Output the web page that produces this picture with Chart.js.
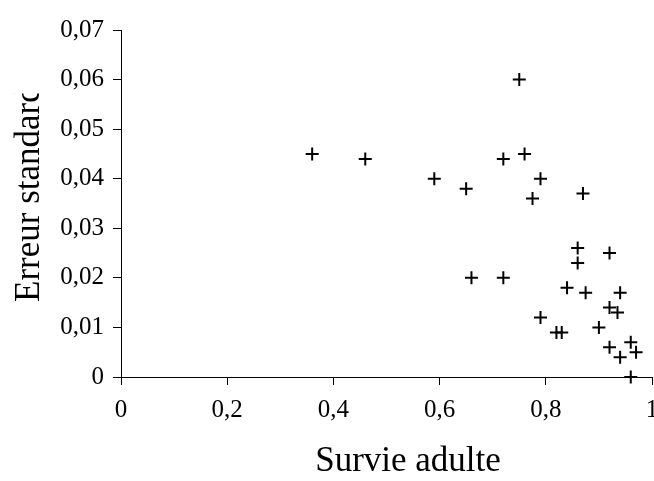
<!DOCTYPE html>
<html><head><meta charset="utf-8">
<script src="https://cdn.jsdelivr.net/npm/chart.js@4/dist/chart.umd.min.js"></script>
<style>html,body{margin:0;padding:0;background:#fff;overflow:hidden}#wrap{width:654px;height:481px;position:relative}</style>
</head><body><div id="wrap"><canvas id="c" width="654" height="481"></canvas></div>
<script>
// Data
const survieAdulte = [0.36, 0.46, 0.59, 0.65, 0.72, 0.75, 0.76, 0.79, 0.775, 0.87,
  0.86, 0.92, 0.86, 0.66, 0.72, 0.84, 0.875, 0.94, 0.92, 0.935,
  0.79, 0.82, 0.83, 0.90, 0.96, 0.92, 0.97, 0.94, 0.96];
const erreurStandard = [0.045, 0.044, 0.040, 0.038, 0.044, 0.060, 0.045, 0.040, 0.036, 0.037,
  0.026, 0.025, 0.023, 0.020, 0.020, 0.018, 0.017, 0.017, 0.014, 0.013,
  0.012, 0.009, 0.009, 0.010, 0.007, 0.006, 0.005, 0.004, 0.000];
const xTicks = [0, 0.2, 0.4, 0.6, 0.8, 1];
const yTicks = [0, 0.01, 0.02, 0.03, 0.04, 0.05, 0.06, 0.07];
const xTitle = 'Survie adulte';
const yTitle = 'Erreur standard';

const FONT = "'Liberation Serif', 'Times New Roman', serif";
const points = survieAdulte.map((x, i) => ({ x: x, y: erreurStandard[i] }));
const fmt = v => (v === 0 ? '0' : (Math.abs(v - 1) < 1e-9 ? '1' : String(+v.toFixed(2)).replace('.', ',')));

const titlesPlugin = {
  id: 'titles',
  afterDraw(chart) {
    const ctx = chart.ctx;
    ctx.save();
    ctx.fillStyle = '#000';
    ctx.font = '35px ' + FONT;
    ctx.textAlign = 'center';
    ctx.textBaseline = 'alphabetic';
    ctx.fillText(xTitle, 408, 471);
    ctx.restore();
    ctx.save();
    ctx.beginPath();
    ctx.rect(0, 93.5, 120, 388);
    ctx.clip();
    ctx.fillStyle = '#000';
    ctx.font = '35px ' + FONT;
    ctx.translate(39, 302);
    ctx.rotate(-Math.PI / 2);
    ctx.textAlign = 'left';
    ctx.textBaseline = 'alphabetic';
    ctx.fillText(yTitle, 0, 0);
    ctx.restore();
  }
};

new Chart(document.getElementById('c'), {
  type: 'scatter',
  data: {
    datasets: [{
      data: points,
      pointStyle: 'cross',
      pointRadius: 6.5,
      pointHoverRadius: 6.5,
      pointBorderWidth: 2,
      borderColor: '#000',
      backgroundColor: '#000',
      showLine: false,
      clip: false
    }]
  },
  options: {
    responsive: false,
    devicePixelRatio: 1,
    animation: false,
    events: [],
    layout: { autoPadding: false, padding: { top: 30, right: 2, left: 0, bottom: 0 } },
    plugins: { legend: { display: false }, tooltip: { enabled: false } },
    scales: {
      x: {
        type: 'linear', min: 0, max: 1,
        afterBuildTicks: s => { s.ticks = xTicks.map(v => ({ value: v })); },
        afterFit: s => { s.height = 104; s.paddingLeft = 0; s.paddingRight = 0; },
        ticks: { callback: v => fmt(v), color: '#000', font: { family: FONT, size: 25 }, maxRotation: 0, autoSkip: false, padding: 10 },
        grid: { drawOnChartArea: false, drawTicks: true, tickLength: 8, tickColor: '#000', tickWidth: 1 },
        border: { display: true, color: '#000', width: 1 }
      },
      y: {
        type: 'linear', min: 0, max: 0.07,
        afterBuildTicks: s => { s.ticks = yTicks.map(v => ({ value: v })); },
        afterFit: s => { s.width = 121; s.paddingTop = 0; s.paddingBottom = 0; },
        ticks: { callback: v => fmt(v), color: '#000', font: { family: FONT, size: 25 }, autoSkip: false, padding: 9 },
        grid: { drawOnChartArea: false, drawTicks: true, tickLength: 8, tickColor: '#000', tickWidth: 1 },
        border: { display: true, color: '#000', width: 1 }
      }
    }
  },
  plugins: [titlesPlugin]
});
</script></body></html>
